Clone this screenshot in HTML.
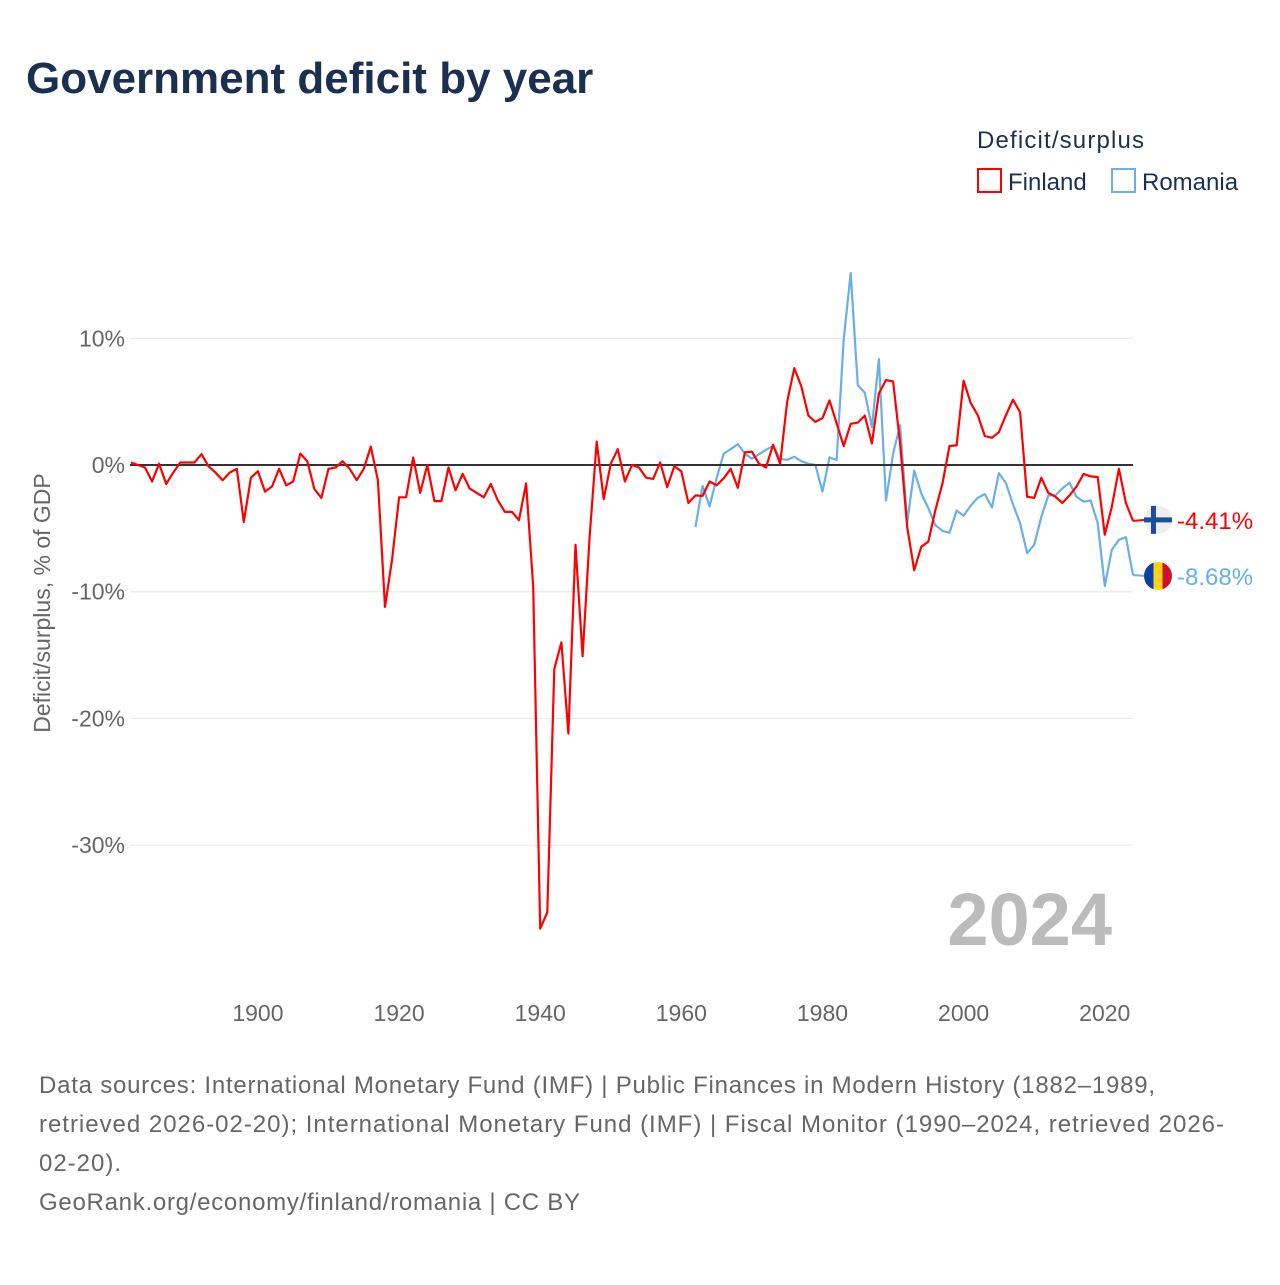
<!DOCTYPE html>
<html><head><meta charset="utf-8"><style>
body{margin:0;background:#fff;width:1280px;height:1280px;overflow:hidden;font-family:"Liberation Sans",sans-serif}
</style></head><body>
<svg width="1280" height="1280" xmlns="http://www.w3.org/2000/svg" style="font-family:'Liberation Sans',sans-serif">
<text x="26" y="93" font-size="44" font-weight="bold" fill="#1b3050">Government deficit by year</text>
<text x="977" y="148" font-size="24" fill="#1b3050" textLength="167">Deficit/surplus</text>
<g>
<rect x="978" y="169" width="23" height="23" fill="none" stroke="#f00" stroke-width="2"/>
<text x="1008" y="190" font-size="24" fill="#1b3050">Finland</text></g>
<g>
<rect x="1112" y="169" width="23" height="23" fill="none" stroke="#6aaeea" stroke-width="2"/>
<text x="1142" y="190" font-size="24" fill="#1b3050">Romania</text></g>
<g id="grid"></g>
<g id="yticks"></g>
<g id="xticks"></g>
<text transform="translate(50,603) rotate(-90)" text-anchor="middle" font-size="23" fill="#666">Deficit/surplus, % of GDP</text>
<text x="1112" y="945" text-anchor="end" font-size="74" font-weight="bold" fill="#bbb">2024</text>
<g id="series"></g>
<g id="ends"></g>
<g font-size="24" fill="#666">
<text x="39" y="1093" textLength="1116">Data sources: International Monetary Fund (IMF) | Public Finances in Modern History (1882–1989,</text>
<text x="39" y="1132" textLength="1185">retrieved 2026-02-20); International Monetary Fund (IMF) | Fiscal Monitor (1990–2024, retrieved 2026-</text>
<text x="39" y="1171" textLength="82">02-20).</text>
<text x="39" y="1210" textLength="541">GeoRank.org/economy/finland/romania | CC BY</text>
</g>
</svg>
<script>
const finlandStart = 1882;
const finlandValues = [0.2,0,-0.2,-1.3,0.1,-1.5,-0.6,0.2,0.2,0.2,0.85,-0.1,-0.6,-1.2,-0.6,-0.3,-4.5,-1.0,-0.5,-2.1,-1.7,-0.3,-1.6,-1.3,0.9,0.3,-1.9,-2.6,-0.3,-0.2,0.3,-0.3,-1.2,-0.3,1.45,-1.2,-11.2,-7.5,-2.55,-2.55,0.6,-2.2,0,-2.85,-2.85,-0.2,-2.0,-0.7,-1.85,-2.2,-2.55,-1.5,-2.8,-3.7,-3.7,-4.35,-1.45,-9.6,-36.6,-35.3,-16.1,-14.0,-21.2,-6.3,-15.1,-5.7,1.85,-2.7,0.1,1.25,-1.3,0,-0.2,-1.0,-1.1,0.2,-1.75,-0.1,-0.5,-3.0,-2.4,-2.45,-1.3,-1.6,-1.05,-0.3,-1.8,1.0,1.05,0.1,-0.2,1.6,0.1,5.0,7.65,6.2,3.9,3.4,3.7,5.1,3.3,1.5,3.25,3.35,3.9,1.7,5.65,6.7,6.6,1.7,-4.9,-8.3,-6.45,-6.05,-3.55,-1.45,1.5,1.55,6.65,4.9,3.95,2.3,2.15,2.6,3.95,5.15,4.15,-2.5,-2.6,-1.0,-2.2,-2.5,-3.0,-2.4,-1.7,-0.7,-0.9,-0.95,-5.5,-3.3,-0.3,-3.0,-4.41];
const romaniaStart = 1962;
const romaniaValues = [-4.9,-1.65,-3.25,-1.05,0.9,1.25,1.65,0.9,0.5,0.85,1.2,1.5,0.5,0.4,0.65,0.3,0.1,0,-2.1,0.6,0.4,9.9,15.15,6.3,5.7,3.0,8.35,-2.8,0.9,3.15,-4.55,-0.45,-2.25,-3.4,-4.75,-5.2,-5.35,-3.6,-4.0,-3.2,-2.6,-2.3,-3.35,-0.65,-1.45,-3.1,-4.6,-6.95,-6.3,-4.1,-2.4,-2.4,-1.85,-1.4,-2.5,-2.9,-2.8,-4.6,-9.55,-6.7,-5.9,-5.7,-8.68];
const yTicks = [10,0,-10,-20,-30];
const yTickLabels = ["10%","0%","-10%","-20%","-30%"];
const xTicks = [1900,1920,1940,1960,1980,2000,2020];
const endLabels = ["-4.41%","-8.68%"];

const NS="http://www.w3.org/2000/svg";
const X0=130.9, X1=1133, Y0=1882, Y1=2024;
function xs(yr){return X0+(yr-Y0)*(X1-X0)/(Y1-Y0);}
function ys(v){return 465-v*12.67;}
function mk(tag,attrs,parent){const e=document.createElementNS(NS,tag);for(const k in attrs)e.setAttribute(k,attrs[k]);parent.appendChild(e);return e;}
const grid=document.getElementById('grid'), yt=document.getElementById('yticks'), xt=document.getElementById('xticks');
yTicks.forEach((v,i)=>{
  if(v!==0){const l=mk('line',{x1:130,x2:1133,y1:ys(v),y2:ys(v),stroke:'#e6e6e6','stroke-width':1},grid);
  
  }
  const t=mk('text',{x:125,y:ys(v)+8,'text-anchor':'end','font-size':23,fill:'#666'},yt);
  t.textContent=yTickLabels[i];
  
  
});
xTicks.forEach(yr=>{
  const t=mk('text',{x:xs(yr),y:1021,'text-anchor':'middle','font-size':23,fill:'#666'},xt);
  t.textContent=yr;
  
  
});
const series=document.getElementById('series');
function line(start,vals,color,name){
  const pts=vals.map((v,i)=>xs(start+i).toFixed(1)+','+ys(v).toFixed(1)).join(' ');
  const p=mk('polyline',{points:pts,fill:'none',stroke:color,'stroke-width':2.2,'stroke-linejoin':'round'},series);
  
  
}
line(romaniaStart,romaniaValues,'#6aaeea','romania-line');
const zl=mk('line',{x1:130,x2:1133,y1:ys(0),y2:ys(0),stroke:'#333','stroke-width':2},series);


line(finlandStart,finlandValues,'#f00','finland-line');

const ends=document.getElementById('ends');
const fv=finlandValues[finlandValues.length-1], rv=romaniaValues[romaniaValues.length-1];
const fy=ys(fv)-1, ry=ys(rv)+1;
const fg=mk('g',{},ends);


mk('line',{x1:1133,x2:1145,y1:ys(fv),y2:fy,stroke:'#f00','stroke-width':2},fg);
mk('circle',{cx:1158,cy:fy,r:14,fill:'#eee'},fg);
mk('rect',{x:1144,y:fy-2.5,width:28,height:5,fill:'#1a4fa0'},fg);
mk('rect',{x:1151,y:fy-14,width:5,height:28,fill:'#1a4fa0'},fg);
const ft=mk('text',{x:1177,y:fy+9,'font-size':24,fill:'#f00'},ends);
ft.textContent=endLabels[0];


const rg=mk('g',{},ends);


mk('line',{x1:1133,x2:1145,y1:ys(rv),y2:ry,stroke:'#6aaeea','stroke-width':2},rg);
const cp=mk('clipPath',{id:'rc'},rg);
mk('circle',{cx:1158,cy:ry,r:14},cp);
const cg=mk('g',{'clip-path':'url(#rc)'},rg);
mk('rect',{x:1144,y:ry-14,width:10,height:28,fill:'#0b3fa8'},cg);
mk('rect',{x:1153.5,y:ry-14,width:9.5,height:28,fill:'#fcd116'},cg);
mk('rect',{x:1162.5,y:ry-14,width:10,height:28,fill:'#ce1126'},cg);
const rt=mk('text',{x:1177,y:ry+9,'font-size':24,fill:'#6aaeea'},ends);
rt.textContent=endLabels[1];


</script>
</body></html>
